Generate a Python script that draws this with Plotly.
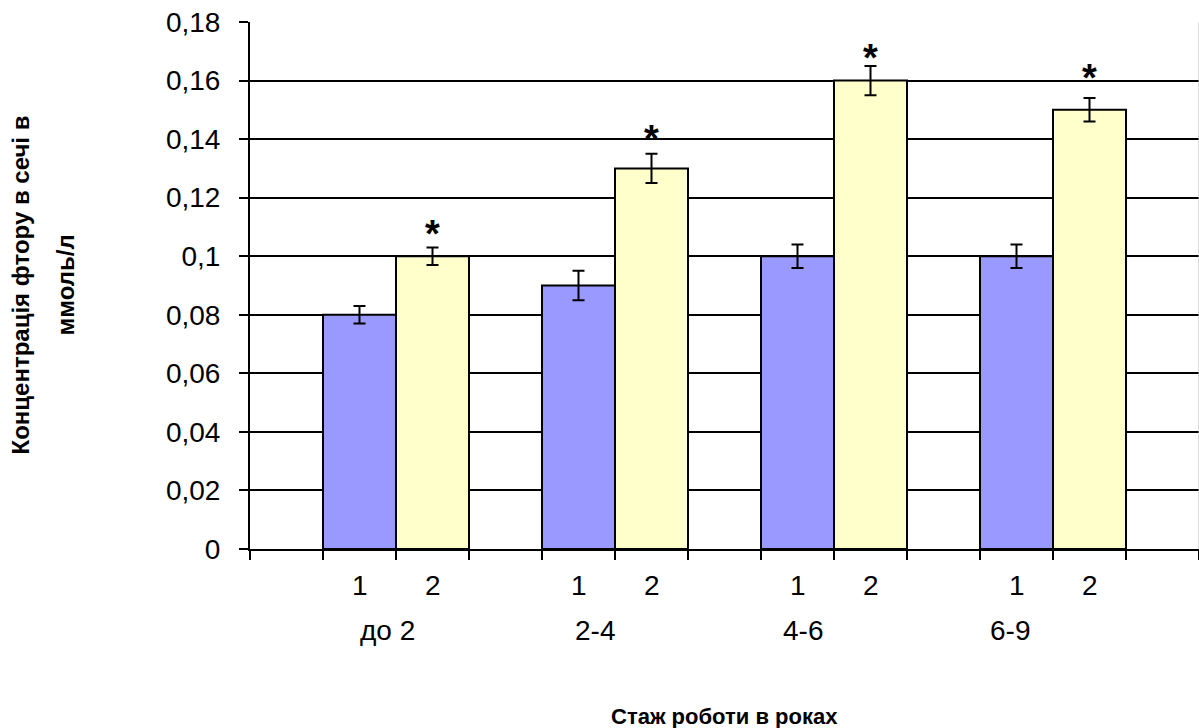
import plotly.graph_objects as go

# ---- data ----
groups = ["до 2", "2-4", "4-6", "6-9"]
sub_labels = ["1", "2"]
series1_values = [0.08, 0.09, 0.10, 0.10]
series1_err = [0.003, 0.005, 0.004, 0.004]
series2_values = [0.10, 0.13, 0.16, 0.15]
series2_err = [0.003, 0.005, 0.005, 0.004]
star_heights = [0.1096, 0.142, 0.1697, 0.163]
y_tick_vals = [0, 0.02, 0.04, 0.06, 0.08, 0.10, 0.12, 0.14, 0.16, 0.18]
y_tick_labels = ["0", "0,02", "0,04", "0,06", "0,08", "0,1", "0,12", "0,14", "0,16", "0,18"]
y_title_line1 = "Концентрація фтору в сечі в"
y_title_line2 = "ммоль/л"
x_title = "Стаж роботи в роках"

FONT = "Liberation Sans, Arial, sans-serif"
W, H = 1199, 728
L, R, T, B = 250, 0, 22, 179
PW = W - L - R
PH = H - T - B
n_slots = 3 * len(groups) + 1
x1 = [3 * i + 1 for i in range(len(groups))]
x2 = [3 * i + 2 for i in range(len(groups))]


def py(pix):
    return (H - B - pix) / PH


def px(pix):
    return (pix - L) / PW


fig = go.Figure()
fig.add_trace(go.Bar(
    x=x1, y=series1_values, width=1,
    marker=dict(color="#9999FF", line=dict(color="black", width=2)),
    error_y=dict(type="data", array=series1_err, color="black", thickness=2, width=6),
    name="1", showlegend=False))
fig.add_trace(go.Bar(
    x=x2, y=series2_values, width=1,
    marker=dict(color="#FFFFCC", line=dict(color="black", width=2)),
    error_y=dict(type="data", array=series2_err, color="black", thickness=2, width=6),
    name="2", showlegend=False))

annotations = []
for i in range(len(groups)):
    for xv, lab in zip((x1[i], x2[i]), sub_labels):
        annotations.append(dict(x=xv, y=py(585), xref="x", yref="paper", text=lab,
                                showarrow=False, yanchor="middle",
                                font=dict(family=FONT, size=28, color="black")))
    annotations.append(dict(x=1.39 + 2.84 * i, y=py(630), xref="x", yref="paper", text=groups[i],
                            showarrow=False, yanchor="middle",
                            font=dict(family=FONT, size=28, color="black")))
    annotations.append(dict(x=x2[i], y=star_heights[i], xref="x", yref="y", text="<b>*</b>",
                            showarrow=False, yanchor="middle", yshift=-6,
                            font=dict(family=FONT, size=38, color="black")))
annotations.append(dict(x=0.5, y=py(716), xref="paper", yref="paper", text="<b>" + x_title + "</b>",
                        showarrow=False, yanchor="middle",
                        font=dict(family=FONT, size=22, color="black")))
annotations.append(dict(x=px(20), y=0.5, xref="paper", yref="paper", text="<b>" + y_title_line1 + "</b>",
                        showarrow=False, textangle=-90, yanchor="middle", xanchor="center",
                        font=dict(family=FONT, size=24, color="black")))
annotations.append(dict(x=px(65), y=0.5, xref="paper", yref="paper", text="<b>" + y_title_line2 + "</b>",
                        showarrow=False, textangle=-90, yanchor="middle", xanchor="center",
                        font=dict(family=FONT, size=24, color="black")))

fig.update_layout(
    width=W, height=H,
    margin=dict(l=L, r=R, t=T, b=B),
    plot_bgcolor="white", paper_bgcolor="white",
    barmode="overlay",
    font=dict(family=FONT, size=28, color="black"),
    annotations=annotations,
    xaxis=dict(range=[-0.5, n_slots - 0.5], tickvals=[k - 0.5 for k in range(n_slots + 1)],
               ticktext=[""] * (n_slots + 1), ticks="outside", ticklen=9, tickwidth=2,
               tickcolor="black", showline=True, linecolor="black", linewidth=2,
               showgrid=False, zeroline=False),
    yaxis=dict(range=[0, 0.18], tickvals=y_tick_vals, ticktext=y_tick_labels,
               ticks="outside", ticklen=9, tickwidth=2, tickcolor="black",
               showline=True, linecolor="black", linewidth=2,
               showgrid=True, gridcolor="black", gridwidth=2, zeroline=False,
               ticklabelstandoff=13, tickfont=dict(family=FONT, size=28, color="black")),
)
fig.add_shape(type="line", xref="paper", yref="paper", x0=1, x1=1, y0=0, y1=1,
              line=dict(color="#BBBBBB", width=1))

fig.write_html("out.html", config={"displayModeBar": False},
               post_script="document.body.style.margin='0';document.body.style.overflow='hidden';")
